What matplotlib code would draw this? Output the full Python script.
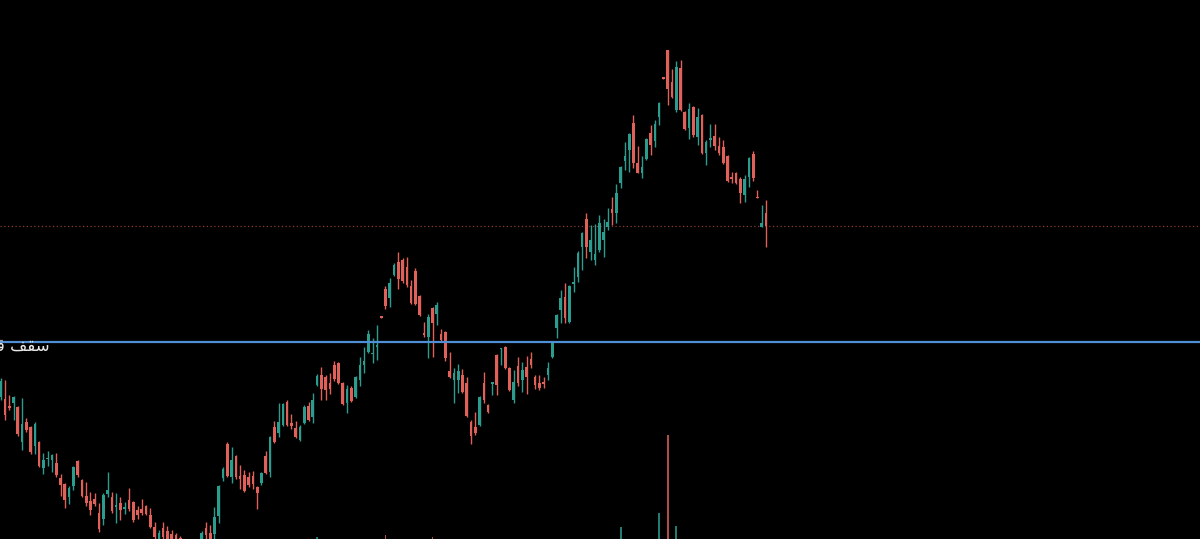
import numpy as np
import matplotlib
matplotlib.use("Agg")
import matplotlib.pyplot as plt

# OHLC (arbitrary price units)
opens = [142, 140, 133, 136, 132, 97, 117, 112, 93, 97, 71, 80, 79, 76, 61, 55, 42, 53, 78, 59,
         43, 38, 40, 26, 20, 45, 42, 32, 36, 30, 39, 37, 29, 30, 33, 24, 12, -4, 11, 8,
         5, 4, 1, -6, -16, -10, -16, -2, 11, 6, 5, 23, 61, 95, 62, 83, 63, 64, 62, 63,
         52, 56, 83, 67, 112, 106, 114, 137, 116, 111, 99, 116, 133, 122, 154, 164, 162, 156, 174, 176,
         156, 136, 151, 142, 159, 174, 187, 185, 192, 223, 250, 241, 264, 277, 279, 272, 253, 268, 243, 206,
         202, 231, 225, 205, 207, 168, 159, 159, 164, 156, 117, 112, 114, 156, 134, 155, 184, 190, 192, 171,
         139, 173, 159, 172, 180, 162, 156, 157, 164, 182, 211, 229, 242, 217, 255, 262, 292, 320, 287, 279,
         289, 299, 312, 330, 326, 356, 378, 389, 416, 376, 366, 380, 406, 398, 422, 462, 489, 457, 429, 471,
         427, 411, 432, 402, 424, 386, 399, 403, 393, 392, 383, 362, 366, 360, 344, 362, 385, 342, 312, 326]
highs = [161, 159, 144, 143, 133, 141, 121, 113, 117, 98, 86, 88, 85, 86, 65, 56, 53, 73, 79, 60,
         57, 47, 46, 36, 46, 67, 47, 46, 42, 37, 51, 38, 33, 40, 34, 31, 17, 9, 17, 13,
         9, 6, 3, -3, -6, -7, -2, 8, 17, 14, 32, 54, 72, 97, 92, 84, 74, 69, 67, 68,
         53, 67, 88, 103, 118, 136, 136, 139, 125, 118, 114, 134, 137, 146, 165, 172, 164, 166, 178, 177,
         157, 154, 153, 163, 182, 192, 209, 201, 214, 223, 253, 261, 276, 287, 281, 282, 259, 271, 244, 217,
         225, 232, 237, 210, 208, 187, 171, 175, 170, 162, 119, 127, 143, 167, 135, 157, 185, 191, 193, 172,
         169, 182, 177, 183, 187, 164, 164, 162, 177, 197, 225, 249, 256, 254, 272, 288, 307, 326, 314, 315,
         324, 320, 331, 342, 355, 373, 397, 406, 424, 393, 383, 401, 414, 419, 437, 462, 489, 470, 478, 479,
         428, 436, 433, 431, 425, 399, 415, 415, 402, 399, 384, 367, 367, 362, 364, 382, 388, 349, 334, 339]
lows = [139, 119, 129, 119, 103, 89, 107, 85, 85, 72, 65, 73, 67, 62, 43, 31, 35, 49, 62, 42,
        33, 24, 33, 7, 14, 42, 26, 16, 19, 25, 28, 17, 20, 24, 24, 11, -1, -8, -3, -8,
        -9, -10, -12, -18, -20, -22, -19, -5, 0, -6, 0, 16, 58, 62, 56, 60, 50, 47, 52, 50,
        30, 54, 65, 62, 96, 102, 113, 113, 110, 101, 98, 115, 118, 116, 153, 139, 139, 145, 158, 155,
        134, 126, 137, 141, 153, 166, 186, 176, 179, 221, 230, 232, 263, 250, 256, 252, 235, 234, 223, 202,
        181, 182, 214, 198, 178, 161, 136, 146, 146, 122, 95, 104, 113, 136, 126, 144, 144, 174, 170, 148,
        136, 153, 147, 145, 171, 150, 149, 151, 159, 181, 201, 216, 216, 216, 247, 257, 269, 281, 279, 274,
        287, 282, 309, 314, 316, 351, 369, 367, 371, 366, 361, 379, 384, 392, 414, 460, 434, 441, 427, 428,
        409, 400, 402, 394, 385, 374, 392, 389, 384, 375, 357, 356, 355, 336, 337, 352, 358, 341, 312, 292]
closes = [158, 124, 131, 142, 105, 115, 109, 87, 115, 73, 79, 81, 84, 64, 54, 39, 51, 72, 64, 43,
          36, 29, 35, 10, 44, 49, 28, 34, 29, 32, 30, 19, 24, 26, 25, 12, 2, 6, 2, -3,
          -4, -6, -8, -14, -10, -18, -6, 6, 4, -3, 22, 53, 70, 63, 79, 62, 60, 48, 54, 55,
          46, 66, 66, 102, 97, 117, 135, 114, 113, 102, 112, 132, 119, 139, 163, 150, 149, 150, 160, 156,
          135, 150, 138, 162, 174, 178, 205, 186, 194, 221, 233, 256, 274, 260, 258, 254, 236, 235, 224, 204,
          222, 216, 234, 199, 181, 162, 166, 168, 147, 123, 103, 106, 142, 139, 127, 157, 154, 191, 171, 149,
          157, 156, 169, 162, 174, 154, 151, 155, 171, 196, 224, 241, 221, 253, 257, 286, 306, 292, 299, 285,
          316, 307, 317, 326, 346, 372, 383, 405, 376, 366, 372, 400, 394, 415, 436, 460, 450, 442, 472, 429,
          410, 430, 404, 422, 386, 397, 401, 393, 386, 376, 358, 360, 356, 346, 360, 381, 361, 341, 316, 313]

# volume spikes visible at the bottom edge
vol_idx = [74, 90, 101, 145, 154, 156, 158]
vol_val = [2, 4, 2, 12, 26, 104, 13]

ceiling_level = 197      # blue line
last_price = 313         # dotted red line

up_col = '#2a9d8f'
down_col = '#e0605a'

fig = plt.figure(figsize=(12, 5.39), dpi=100, facecolor='black')
ax = fig.add_axes([0, 0, 1, 1])
ax.set_facecolor('black')

o = np.array(opens)
h = np.array(highs)
l = np.array(lows)
c = np.array(closes)
x = np.arange(len(o))
colors = [up_col if cc >= oo else down_col for oo, cc in zip(o, c)]

# volume
vcols = [colors[i] for i in vol_idx]
ax.bar(vol_idx, vol_val, width=0.45, bottom=0, color=vcols, alpha=0.8, zorder=1)

# wicks and bodies
ax.vlines(x, l, h, colors=colors, linewidth=1.0, zorder=2)
body_low = np.minimum(o, c)
body_h = np.maximum(np.abs(c - o), 1.0)
ax.bar(x, body_h, bottom=body_low, width=0.62, color=colors, zorder=3)

ax.axhline(ceiling_level, color='#4f8fd6', linewidth=1.6, zorder=4)
ax.axhline(last_price, color='#8a3a34', linewidth=0.9, linestyle=(0, (1, 2)), zorder=1)

# label on the ceiling line (cut by the left edge)
ax.text(50 / 1200, (539 - 346) / 539, 'ﺖﻤﻴﻗ ﻒﻘﺳ', transform=ax.transAxes,
        ha='right', va='center', color='#e8e8e8', fontsize=12,
        family=['DejaVu Sans'], zorder=5)

ax.set_xlim(-0.16, 280.5)
ax.set_ylim(0, 539)
ax.axis('off')

fig.savefig('out.png', dpi=100, facecolor='black')
